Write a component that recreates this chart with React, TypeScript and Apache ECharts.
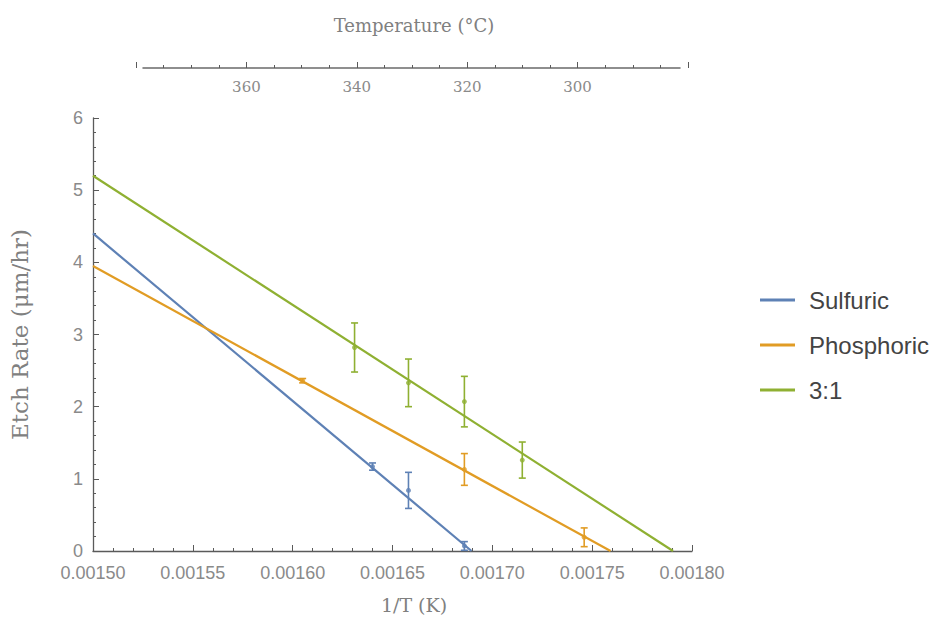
import React, { useEffect, useRef } from "react";
import * as echarts from "echarts";

// ---- data ----
const seriesNames = ["Sulfuric", "Phosphoric", "3:1"];
const seriesColors = ["#5E81B5", "#E19C24", "#8FB032"];

// fitted lines (endpoints: at 1/T = 0.00150 and where rate reaches 0)
const sulfuricFit = [[0.0015, 4.4], [0.0016896, 0]];
const phosphoricFit = [[0.0015, 3.95], [0.0017592, 0]];
const ratioFit = [[0.0015, 5.2], [0.0017905, 0]];

// measured points [1/T, rate]
const sulfuricPts = [[0.00164, 1.17], [0.001658, 0.84], [0.001686, 0.07]];
const phosphoricPts = [[0.001605, 2.36], [0.001686, 1.13], [0.001746, 0.19]];
const ratioPts = [[0.001631, 2.82], [0.001658, 2.33], [0.001686, 2.07], [0.001715, 1.26]];

// half-widths of error bars
const sulfuricErr = [0.05, 0.25, 0.06];
const phosphoricErr = [0.03, 0.22, 0.13];
const ratioErr = [0.34, 0.33, 0.35, 0.25];

// top temperature axis labels (°C)
const tempLabels = [360, 340, 320, 300];

const fits = [sulfuricFit, phosphoricFit, ratioFit];
const pts = [sulfuricPts, phosphoricPts, ratioPts];
const errs = [sulfuricErr, phosphoricErr, ratioErr];

const AXIS = "#5a5a5a";
const LABEL = "#8a8a8a";

export default function App() {
  const ref = useRef<HTMLDivElement>(null);
  useEffect(() => {
    if (!ref.current) return;
    const chart = echarts.init(ref.current, null, { renderer: "svg" });

    const series: any[] = [];
    seriesNames.forEach((name, i) => {
      const color = seriesColors[i];
      series.push({
        name,
        type: "line",
        xAxisIndex: 0,
        yAxisIndex: 0,
        data: fits[i],
        showSymbol: false,
        itemStyle: { color },
        lineStyle: { color, width: 2.2 },
        z: 2,
      });
      series.push({
        name,
        type: "custom",
        xAxisIndex: 0,
        yAxisIndex: 0,
        data: pts[i].map((p, k) => [p[0], p[1] - errs[i][k], p[1] + errs[i][k]]),
        encode: { x: 0, y: [1, 2] },
        itemStyle: { color },
        renderItem: (params: any, api: any) => {
          const x = api.value(0);
          const lo = api.coord([x, api.value(1)]);
          const hi = api.coord([x, api.value(2)]);
          const hw = 3.5;
          const style = { stroke: color, lineWidth: 1.6 };
          return {
            type: "group",
            children: [
              { type: "line", shape: { x1: lo[0], y1: lo[1], x2: hi[0], y2: hi[1] }, style },
              { type: "line", shape: { x1: lo[0] - hw, y1: lo[1], x2: lo[0] + hw, y2: lo[1] }, style },
              { type: "line", shape: { x1: hi[0] - hw, y1: hi[1], x2: hi[0] + hw, y2: hi[1] }, style },
            ],
          };
        },
        z: 3,
      });
      series.push({
        name,
        type: "scatter",
        xAxisIndex: 0,
        yAxisIndex: 0,
        data: pts[i],
        symbolSize: 5,
        itemStyle: { color },
        z: 4,
      });
    });

    const option: any = {
      animation: false,
      backgroundColor: "#ffffff",
      grid: [
        { left: 89, top: 118, width: 603, height: 433 },
        { left: 136, top: 67, width: 552, height: 1 },
        { left: 143, top: 67, width: 537, height: 1 },
      ],
      xAxis: [
        {
          gridIndex: 0,
          type: "value",
          min: 0.0015,
          max: 0.0018,
          interval: 0.00005,
          axisLine: { show: true, lineStyle: { color: AXIS, width: 1.3 } },
          axisTick: { show: true, inside: true, length: 6, lineStyle: { color: AXIS } },
          minorTick: { show: true, splitNumber: 5, length: 3, lineStyle: { color: AXIS } },
          axisLabel: {
            formatter: (v: number) => v.toFixed(5),
            fontFamily: "Liberation Sans",
            fontSize: 18,
            color: LABEL,
            margin: 13,
          },
          splitLine: { show: false },
        },
        {
          gridIndex: 1,
          type: "value",
          min: 280,
          max: 380,
          interval: 20,
          inverse: true,
          position: "bottom",
          axisLine: { show: false },
          axisTick: { show: true, inside: true, length: 6, lineStyle: { color: AXIS } },
          minorTick: { show: true, splitNumber: 4, length: 3, lineStyle: { color: AXIS } },
          axisLabel: {
            formatter: (v: number) => (tempLabels.includes(v) ? String(v) : ""),
            fontFamily: "DejaVu Serif",
            fontSize: 15,
            color: LABEL,
            margin: 11,
          },
          splitLine: { show: false },
        },
        {
          gridIndex: 2,
          type: "value",
          min: 0,
          max: 1,
          position: "bottom",
          axisLine: { show: true, lineStyle: { color: "#6a6a6a", width: 1.5 } },
          axisTick: { show: false },
          axisLabel: { show: false },
          splitLine: { show: false },
        },
      ],
      yAxis: [
        {
          gridIndex: 0,
          type: "value",
          min: 0,
          max: 6,
          interval: 1,
          name: "Etch Rate (μm/hr)",
          nameLocation: "middle",
          nameGap: 62,
          nameTextStyle: { fontFamily: "DejaVu Serif", fontSize: 23, color: "#808080" },
          axisLine: { show: true, lineStyle: { color: AXIS, width: 1.3 } },
          axisTick: { show: true, inside: true, length: 6, lineStyle: { color: AXIS } },
          minorTick: { show: true, splitNumber: 5, length: 3, lineStyle: { color: AXIS } },
          axisLabel: { fontFamily: "Liberation Sans", fontSize: 18, color: LABEL, margin: 10 },
          splitLine: { show: false },
        },
        { gridIndex: 1, type: "value", show: false },
        { gridIndex: 2, type: "value", show: false },
      ],
      legend: {
        orient: "vertical",
        left: 755,
        top: 283,
        itemWidth: 35,
        itemHeight: 3,
        itemGap: 21,
        data: seriesNames.map((n) => ({ name: n, icon: "rect" })),
        textStyle: {
          fontFamily: "Liberation Sans",
          fontSize: 24,
          color: "#444444",
          padding: [0, 0, 0, 9],
        },
      },
      graphic: [
        {
          type: "text",
          x: 414,
          y: 25,
          style: {
            text: "Temperature (°C)",
            font: '18px "DejaVu Serif"',
            fill: "#808080",
            align: "center",
            verticalAlign: "middle",
          },
        },
        {
          type: "text",
          x: 414,
          y: 605,
          style: {
            text: "1/T (K)",
            font: '19px "DejaVu Serif"',
            fill: "#808080",
            align: "center",
            verticalAlign: "middle",
          },
        },
      ],
      series,
    };
    chart.setOption(option);
    return () => chart.dispose();
  }, []);

  return (
    <div
      ref={ref}
      style={{ position: "fixed", left: 0, top: 0, width: 932, height: 633, background: "#fff" }}
    />
  );
}
